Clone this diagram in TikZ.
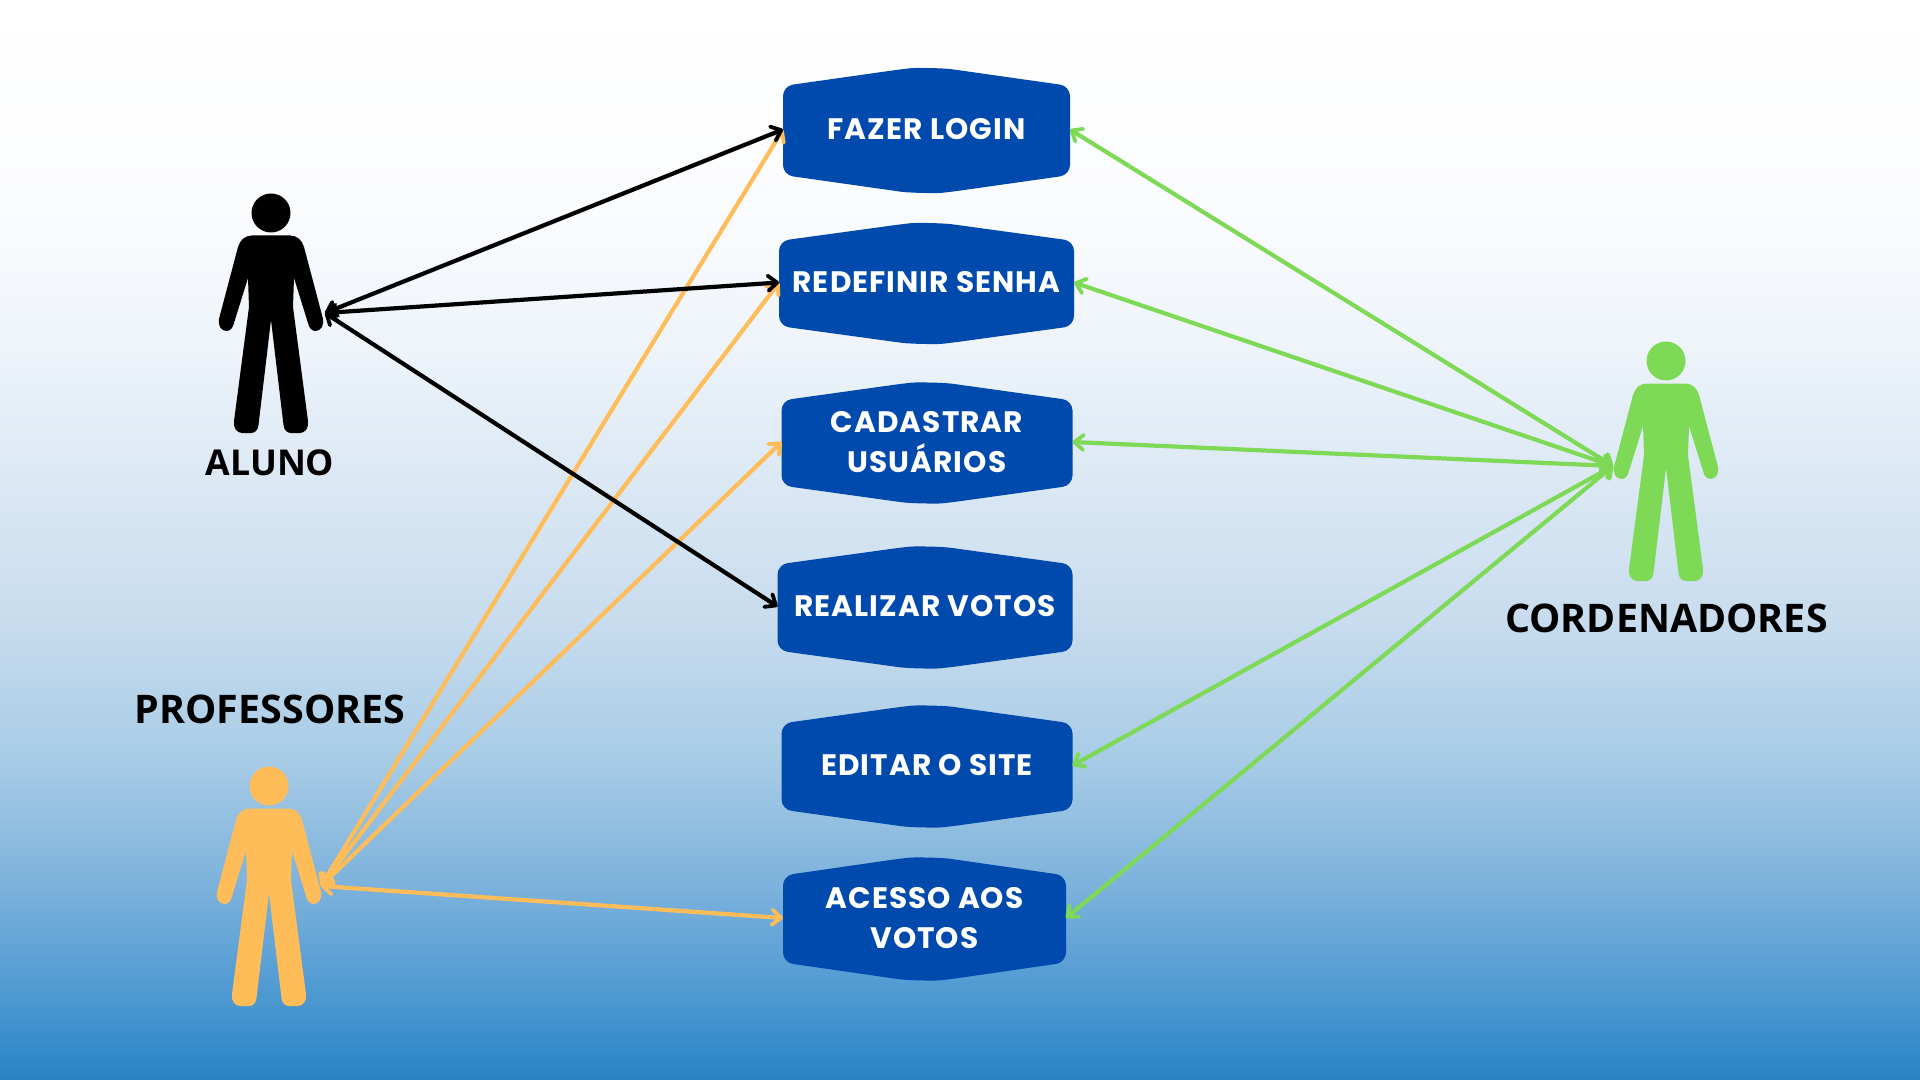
\documentclass[tikz,border=0pt]{standalone}
\usepackage{fontspec}
\setmainfont{Open Sans}
\newfontfamily\boxfont[LetterSpace=3.5]{Poppins}
\usetikzlibrary{arrows.meta}
\definecolor{bluebox}{HTML}{004AAD}
\definecolor{orangep}{HTML}{FFBD59}
\definecolor{greenp}{HTML}{7ED957}
\definecolor{c0}{HTML}{2A82C4}
\definecolor{c1}{HTML}{3D90CE}
\definecolor{c2}{HTML}{79B0DB}
\definecolor{c3}{HTML}{A8CCE6}
\definecolor{c4}{HTML}{C8DCEE}
\definecolor{c5}{HTML}{DBE8F4}
\definecolor{c6}{HTML}{EEF4FA}
\definecolor{c7}{HTML}{FBFCFE}
\definecolor{c8}{HTML}{FFFFFF}
\pgfdeclareverticalshading{skybg}{100bp}{
  color(0bp)=(c0);
  color(25bp)=(c0);
  color(27.2bp)=(c1);
  color(33.6bp)=(c2);
  color(39.9bp)=(c3);
  color(46.3bp)=(c4);
  color(52.7bp)=(c5);
  color(59.1bp)=(c6);
  color(65.4bp)=(c7);
  color(75bp)=(c8);
  color(100bp)=(c8)
}
\tikzset{
  x=0.5pt,y=-0.5pt,
  lbl/.style={font=\bfseries\fontsize{17.8}{21}\selectfont,text=black,inner sep=0pt},
  lblbig/.style={lbl,font=\bfseries\fontsize{19.7}{24}\selectfont},
  usecasetext/.style={inner sep=0pt,outer sep=0pt,align=center,text=white,
    font=\boxfont\bfseries\fontsize{14.8}{20.3}\selectfont},
  assoc/.style={line width=2.1pt,line cap=round,
    {Straight Barb[round,length=4.5pt,width=7.5pt,line width=1.9pt]}-{Straight Barb[round,length=4.5pt,width=7.5pt,line width=1.9pt]}},
}
\newcommand{\usecasebox}[6]{% name, cx, cy, halfwidth, halfheight, text
  \fill[bluebox,rounded corners=5pt]
    (#2-#4,#3) -- (#2-#4,#3-#5+18) -- (#2-25,#3-#5+1.2) [sharp corners] .. controls (#2-12,#3-#5-0.2) and (#2+12,#3-#5-0.2) .. (#2+25,#3-#5+1.2) [rounded corners=5pt]
    -- (#2+#4,#3-#5+18) -- (#2+#4,#3+#5-18) -- (#2+25,#3+#5-1.2) [sharp corners] .. controls (#2+12,#3+#5+0.2) and (#2-12,#3+#5+0.2) .. (#2-25,#3+#5-1.2) [rounded corners=5pt]
    -- (#2-#4,#3+#5-18) -- cycle;
  \node[usecasetext,minimum width=2*#4*0.5pt,minimum height=2*#5*0.5pt] (#1) at (#2,#3-1) {#6};
}
\newcommand{\person}[4]{% name, colour, head x, head y
  \begin{scope}[shift={(#3,#4)}]
    \fill[#2] (0,0) circle[radius=19.5];
    \fill[#2]
      (-19,22.5) -- (19,22.5) .. controls (26,22.5) and (31,27) .. (33,34)
      -- (51.5,104) .. controls (54,112) and (50,118) .. (44.5,118)
      .. controls (41,118) and (38,115) .. (37,110)
      -- (23,65) -- (22,94) -- (37,208)
      .. controls (38,215) and (34,220) .. (29,220)
      -- (20,220) .. controls (16,220) and (13,217) .. (12.5,212)
      -- (0,107) -- (-12.5,212)
      .. controls (-13,217) and (-16,220) .. (-20,220)
      -- (-29,220) .. controls (-34,220) and (-38,215) .. (-37,208)
      -- (-22,94) -- (-23,65) -- (-37,110)
      .. controls (-38,115) and (-41,118) .. (-44.5,118)
      .. controls (-50,118) and (-54,112) .. (-51.5,104)
      -- (-33,34) .. controls (-31,27) and (-26,22.5) .. (-19,22.5) -- cycle;
    \node[minimum width=106*0.5pt,minimum height=240*0.5pt,inner sep=0pt] (#1) at (0,100) {};
  \end{scope}
}
\begin{document}
\begin{tikzpicture}
\useasboundingbox (0,0) rectangle (1920,1080);
\path[shading=skybg] (0,0) rectangle (1920,1080);

\usecasebox{login}{926.5}{130.5}{143.5}{62.5}{FAZER LOGIN}
\usecasebox{senha}{926.5}{283.5}{147.5}{60.5}{REDEFINIR SENHA}
\usecasebox{cadastro}{927}{443}{145.5}{60.5}{CADASTRAR\\USUÁRIOS}
\usecasebox{votos}{925}{607.5}{147.5}{61}{REALIZAR VOTOS}
\usecasebox{editar}{927}{766.5}{145.5}{61}{EDITAR O SITE}
\usecasebox{acesso}{924.5}{919}{141.5}{61.5}{ACESSO AOS\\VOTOS}

\person{aluno}{black}{271}{213}
\person{prof}{orangep}{269}{786}
\person{coord}{greenp}{1666}{361}

\node[lbl] (alunolabel) at (270,463) {ALUNO};
\node[lblbig] (proflabel) at (270,709) {PROFESSORES};
\node[lblbig] (coordlabel) at (1666.5,618) {CORDENADORES};

\coordinate (handa) at (325,313);
\coordinate (handp) at (321,886);
\coordinate (handc) at (1613,466);

\draw[assoc,orangep] (handp) -- (login.west);
\draw[assoc,orangep] (handp) -- (senha.west);
\draw[assoc,orangep] (handp) -- (cadastro.west);
\draw[assoc,orangep] (handp) -- (acesso.west);
\draw[assoc,black] (handa) -- (login.west);
\draw[assoc,black] (handa) -- (senha.west);
\draw[assoc,black] (handa) -- (votos.west);
\draw[assoc,greenp] (handc) -- (login.east);
\draw[assoc,greenp] (handc) -- (senha.east);
\draw[assoc,greenp] (handc) -- (cadastro.east);
\draw[assoc,greenp] (handc) -- (editar.east);
\draw[assoc,greenp] (handc) -- (acesso.east);
\end{tikzpicture}
\end{document}
